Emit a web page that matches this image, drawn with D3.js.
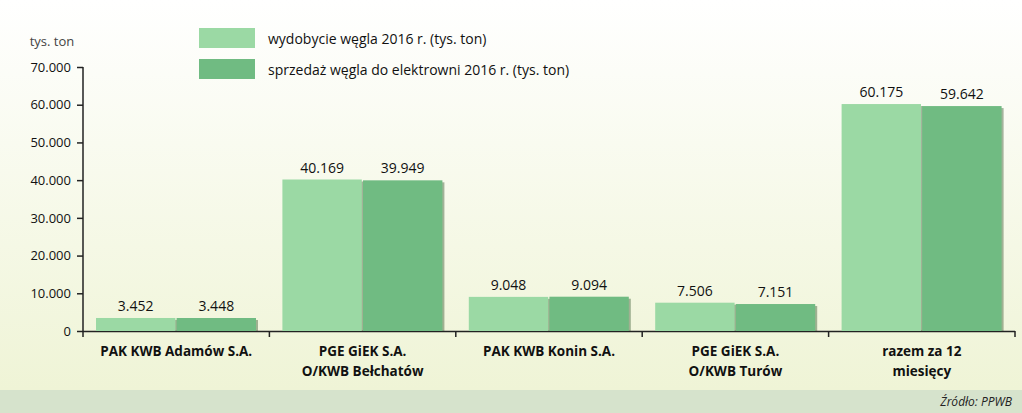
<!DOCTYPE html>
<html><head><meta charset="utf-8">
<script src="https://cdn.jsdelivr.net/npm/d3@7"></script>
<style>body{margin:0}svg{display:block;font-family:"Open Sans",sans-serif}</style>
</head><body><svg id="c" width="1022" height="413"></svg>
<script>
const categories = ["PAK KWB Adamów S.A.","PGE GiEK S.A.|O/KWB Bełchatów","PAK KWB Konin S.A.","PGE GiEK S.A.|O/KWB Turów","razem za 12|miesięcy"];
const wydobycie = [3452,40169,9048,7506,60175];
const sprzedaz = [3448,39949,9094,7151,59642];
const seriesNames = ["wydobycie węgla 2016 r. (tys. ton)","sprzedaż węgla do elektrowni 2016 r. (tys. ton)"];
const yTicks = [0,10000,20000,30000,40000,50000,60000,70000];
const colors = ["#9bd9a4","#70bb82"];

const svg = d3.select("#c");
const defs = svg.append("defs");
const g = defs.append("linearGradient").attr("id","bg").attr("x1",0).attr("y1",0).attr("x2",0).attr("y2",1);
g.append("stop").attr("offset","0").attr("stop-color","#ffffff");
g.append("stop").attr("offset","1").attr("stop-color","#eff4d6");
svg.append("rect").attr("width",1022).attr("height",390).attr("fill","url(#bg)");
svg.append("rect").attr("y",390).attr("width",1022).attr("height",23).attr("fill","#d6e3cc");
svg.append("text").attr("x",1012).attr("y",406).attr("text-anchor","end").attr("font-size",12).attr("font-style","italic").attr("fill","#222").text("Źródło: PPWB");

const x0 = d3.scaleBand().domain(categories).range([83,1015]).paddingInner(0).paddingOuter(0);
const x1 = d3.scaleBand().domain([0,1]).range([13,173]).paddingInner(0.015);
const y = d3.scaleLinear().domain([0,70000]).range([331,67]);

const ax = svg.append("g").attr("transform","translate(83,0)")
 .call(d3.axisLeft(y).tickValues(yTicks).tickSize(6).tickFormat(d=>d3.format(",")(d).replace(/,/g,".")));
ax.selectAll("text").attr("font-size",13).attr("fill","#111").attr("x",-12).style("font-family","Open Sans");
ax.selectAll("line,path").attr("stroke","#222").attr("stroke-width",1.5);
ax.select(".domain").attr("d","M0,67V331");
svg.append("text").attr("x",52).attr("y",46).attr("text-anchor","middle").attr("font-size",13).attr("fill","#444").text("tys. ton");

const bx = svg.append("g").attr("transform","translate(0,331)").call(d3.axisBottom(x0).tickSize(0).tickFormat(""));
bx.selectAll("line,path").remove();
svg.append("line").attr("x1",83).attr("x2",1015).attr("y1",331.5).attr("y2",331.5).attr("stroke","#222").attr("stroke-width",1.5);
[...categories.map(c=>x0(c)+x0.bandwidth()),83].forEach(t=>svg.append("line").attr("x1",t).attr("x2",t).attr("y1",331).attr("y2",337).attr("stroke","#222").attr("stroke-width",1.5));

categories.forEach((c,i)=>{
  const vals=[wydobycie[i],sprzedaz[i]];
  vals.forEach((v,j)=>{
    const bxp=x0(c)+x1(j), w=x1.bandwidth();
    svg.append("rect").attr("x",bxp+2).attr("y",y(v)+2).attr("width",w).attr("height",331-y(v)-2).attr("fill","#4d6b45").attr("opacity",0.5);
    svg.append("rect").attr("x",bxp).attr("y",y(v)).attr("width",w).attr("height",331-y(v)).attr("fill",colors[j]);
    svg.append("text").attr("x",bxp+w/2).attr("y",y(v)-7).attr("text-anchor","middle").attr("font-size",14).attr("fill","#111").text(d3.format(",")(v).replace(/,/g,"."));
  });
  const t=svg.append("text").attr("text-anchor","middle").attr("font-size",13.5).attr("font-weight","bold").attr("fill","#111");
  c.split("|").forEach((l,k)=>t.append("tspan").attr("x",x0(c)+x0.bandwidth()/2).attr("y",356+k*20).text(l));
});

seriesNames.forEach((s,i)=>{
  svg.append("rect").attr("x",199).attr("y",28+i*31).attr("width",56).attr("height",20).attr("fill",colors[i]);
  svg.append("text").attr("x",268).attr("y",44+i*31).attr("font-size",14).attr("fill","#111").text(s);
});
</script></body></html>
